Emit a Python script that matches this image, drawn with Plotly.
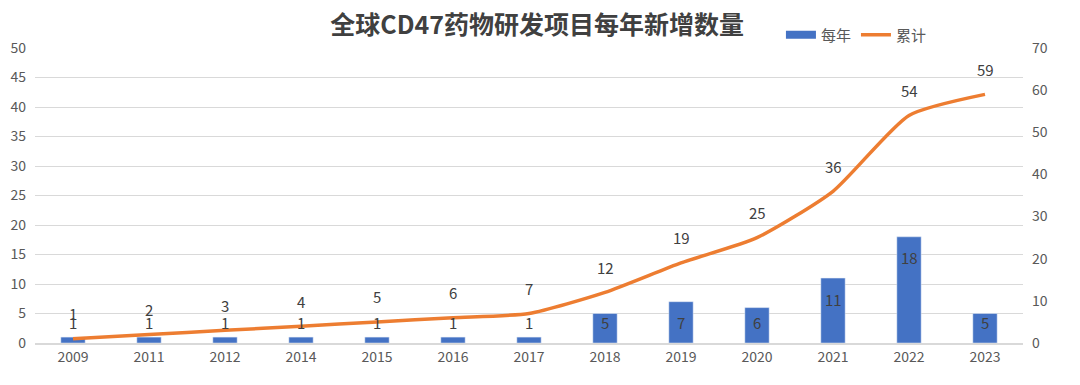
import plotly.graph_objects as go

years = ["2009", "2011", "2012", "2014", "2015", "2016", "2017", "2018", "2019", "2020", "2021", "2022", "2023"]
per_year = [1, 1, 1, 1, 1, 1, 1, 5, 7, 6, 11, 18, 5]
cumulative = [1, 2, 3, 4, 5, 6, 7, 12, 19, 25, 36, 54, 59]

FONT = "Noto Sans CJK SC"
BLUE = "#4472C4"
ORANGE = "#ED7D31"
TXT = "#404040"

fig = go.Figure()
fig.add_trace(go.Bar(x=years, y=per_year, name="每年", marker_color=BLUE, yaxis="y",
                     showlegend=False))
# legend swatch for bars (wide rectangle like the reference)
fig.add_trace(go.Scatter(x=[None], y=[None], name="每年", mode="lines",
                         line=dict(color=BLUE, width=8), yaxis="y"))
fig.add_trace(go.Scatter(x=years, y=cumulative, name="累计", mode="lines",
                         line=dict(color=ORANGE, width=3.5, shape="spline", smoothing=0.6),
                         yaxis="y2"))
# bar labels
for i, v in enumerate(per_year):
    fig.add_annotation(x=i, y=max(v, 7), xref="x", yref="y", text=str(v), showarrow=False,
                       yshift=-21, yanchor="middle",
                       font=dict(size=15, color=TXT, family=FONT))
# line labels
for i, v in enumerate(cumulative):
    fig.add_annotation(x=i, y=v, xref="x", yref="y2", text=str(v), showarrow=False, yshift=25,
                       yanchor="middle", font=dict(size=15, color=TXT, family=FONT))

fig.update_layout(
    width=1080, height=385,
    margin=dict(l=27, r=65, t=40, b=50, autoexpand=False),
    paper_bgcolor="white", plot_bgcolor="white",
    font=dict(family=FONT, color="#595959"),
    title=dict(text="<b>全球CD47药物研发项目每年新增数量</b>", x=0.49, xanchor="center",
               y=0.955, yanchor="middle", yref="container",
               font=dict(size=25, color=TXT, family=FONT)),
    bargap=0.68,
    showlegend=True,
    legend=dict(orientation="h", x=0.755, xanchor="left", y=0.93, yanchor="middle",
                yref="container",
                font=dict(size=15, color="#595959", family=FONT), bgcolor="rgba(0,0,0,0)",
                traceorder="normal"),
    xaxis=dict(type="category", range=[-0.5, 12.5], showgrid=False, showline=True,
               linecolor="#D9D9D9", linewidth=1.5,
               tickfont=dict(size=14, color="#595959"), ticks=""),
    yaxis=dict(range=[0, 50], dtick=5, showgrid=True, gridcolor="#D9D9D9", gridwidth=1,
               zeroline=False, tickfont=dict(size=14, color="#595959"), ticklabelstandoff=8),
    yaxis2=dict(range=[0, 70], dtick=10, overlaying="y", side="right", showgrid=False,
                zeroline=False, tickfont=dict(size=14, color="#595959"), ticklabelstandoff=8),
)

fig.write_html("out.html")
